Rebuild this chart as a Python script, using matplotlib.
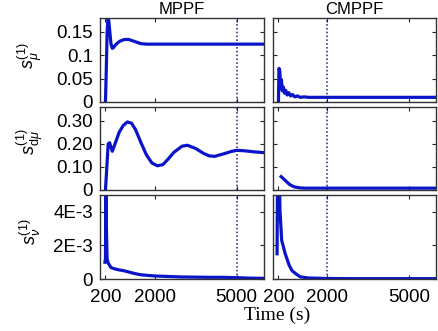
import matplotlib
matplotlib.use("Agg")
import matplotlib.pyplot as plt
from matplotlib.ticker import FixedLocator, FixedFormatter

# ---- data ----
col_titles = ["MPPF", "CMPPF"]
ylabels = [r"$s_{\mu}^{(1)}$", r"$s_{\mathrm{d}\mu}^{(1)}$", r"$s_{\nu}^{(1)}$"]
xticks = [200, 2000, 5000]
xticklabels = ["200", "2000", "5000"]
vlines = [5000, 2000]

yticks = [[0, 0.05, 0.1, 0.15], [0, 0.10, 0.20, 0.30], [0, 0.002, 0.004]]
yticklabels = [["0", "0.05", "0.1", "0.15"], ["0", "0.10", "0.20", "0.30"], ["0", "2E-3", "4E-3"]]
ylims = [(0, 0.18), (0, 0.36), (0, 0.005)]

# MPPF s_mu
t_mu_m = [200, 230, 260, 290, 320, 360, 400, 450, 500, 560, 650, 750, 900, 1050, 1200, 1350, 1500, 1700, 2000, 2500, 3000, 3500, 4000, 4500, 5000, 5500, 6000]
v_mu_m = [0.0, 0.07, 0.15, 0.178, 0.175, 0.15, 0.125, 0.115, 0.117, 0.122, 0.127, 0.131, 0.134, 0.134, 0.131, 0.128, 0.125, 0.124, 0.124, 0.124, 0.124, 0.124, 0.124, 0.124, 0.124, 0.124, 0.124]
# CMPPF s_mu
t_mu_c = [200, 220, 250, 280, 310, 340, 380, 420, 470, 520, 580, 650, 720, 800, 900, 1000, 1150, 1300, 1500, 2000, 3000, 4000, 5000, 6000]
v_mu_c = [0.0, 0.072, 0.066, 0.03, 0.048, 0.024, 0.032, 0.019, 0.025, 0.015, 0.02, 0.013, 0.016, 0.011, 0.013, 0.01, 0.011, 0.01, 0.01, 0.01, 0.01, 0.01, 0.01, 0.01]
# MPPF s_dmu
t_dmu_m = [200, 250, 300, 350, 450, 550, 700, 850, 1000, 1150, 1300, 1500, 1700, 1900, 2100, 2300, 2500, 2700, 3000, 3200, 3500, 3800, 4000, 4200, 4500, 4800, 5000, 5300, 5600, 6000]
v_dmu_m = [0.0, 0.1, 0.2, 0.205, 0.168, 0.2, 0.25, 0.28, 0.295, 0.29, 0.262, 0.205, 0.152, 0.117, 0.105, 0.11, 0.135, 0.163, 0.19, 0.194, 0.18, 0.158, 0.148, 0.146, 0.156, 0.167, 0.172, 0.17, 0.166, 0.162]
# CMPPF s_dmu
t_dmu_c = [300, 400, 500, 600, 700, 800, 900, 1000, 1200, 1500, 2000, 3000, 4000, 5000, 6000]
v_dmu_c = [0.058, 0.047, 0.036, 0.025, 0.018, 0.013, 0.011, 0.009, 0.008, 0.008, 0.008, 0.008, 0.008, 0.008, 0.008]
# MPPF s_nu
t_nu_m = [180, 200, 215, 235, 260, 300, 400, 550, 700, 850, 1000, 1250, 1500, 2000, 2500, 3000, 3500, 4000, 4500, 5000, 5500, 6000]
v_nu_m = [0.001, 0.0012, 0.0056, 0.003, 0.0012, 0.00095, 0.00068, 0.0006, 0.00054, 0.0005, 0.00044, 0.00033, 0.00025, 0.00018, 0.00015, 0.00012, 0.00011, 0.0001, 0.0001, 0.00008, 0.00005, 0.00004]
# CMPPF s_nu
t_nu_c = [150, 165, 240, 256, 320, 450, 600, 700, 850, 1000, 1300, 2000, 3000, 4000, 5000, 6000]
v_nu_c = [0.0015, 0.0058, 0.0058, 0.0041, 0.0023, 0.0015, 0.0008, 0.0005, 0.0003, 0.00013, 0.00006, 0.00003, 0.00002, 0.00002, 0.00002, 0.00002]

series = [[(t_mu_m, v_mu_m), (t_mu_c, v_mu_c)],
          [(t_dmu_m, v_dmu_m), (t_dmu_c, v_dmu_c)],
          [(t_nu_m, v_nu_m), (t_nu_c, v_nu_c)]]

# ---- layout ----
W, H = 438, 331
fig = plt.figure(figsize=(W / 100, H / 100), dpi=100)
sans = "Liberation Sans"
plt.rcParams["mathtext.fontset"] = "custom"
plt.rcParams["mathtext.rm"] = "Liberation Sans"
plt.rcParams["mathtext.it"] = "Liberation Sans:italic"

col_px = [(100, 264), (273, 436)]
row_px = [(18, 102), (107, 190), (195, 279)]
line_color = "#0a14c8"
vline_color = "#1a1a9a"

for r in range(3):
    for c in range(2):
        x0, x1 = col_px[c]
        y0, y1 = row_px[r]
        ax = fig.add_axes([x0 / W, (H - y1) / H, (x1 - x0) / W, (y1 - y0) / H])
        t, v = series[r][c]
        ax.plot(t, v, color=line_color, lw=2.3, solid_joinstyle="round")
        ax.axvline(vlines[c], color=vline_color, ls=(0, (1, 1.5)), lw=1.1)
        ax.set_xlim(0, 6000)
        ax.set_ylim(*ylims[r])
        ax.xaxis.set_major_locator(FixedLocator(xticks))
        ax.yaxis.set_major_locator(FixedLocator(yticks[r]))
        if r == 2:
            ax.xaxis.set_major_formatter(FixedFormatter(xticklabels))
        else:
            ax.set_xticklabels([])
        if c == 0:
            ax.yaxis.set_major_formatter(FixedFormatter(yticklabels[r]))
        else:
            ax.set_yticklabels([])
        ax.tick_params(direction="in", length=3, width=0.8, top=True, right=True,
                       labelsize=13.5, colors="#222222", labelcolor="black")
        ax.tick_params(axis="x", pad=7)
        ax.tick_params(axis="y", pad=5)
        for lab in ax.get_xticklabels() + ax.get_yticklabels():
            lab.set_fontfamily(sans)
        for s in ax.spines.values():
            s.set_color("#333333")
            s.set_linewidth(1.0)
        if r == 0:
            ax.set_title(col_titles[c], fontsize=12, fontfamily=sans, pad=3)

label_y = [56, 142, 232]
for r in range(3):
    fig.text(30 / W, (H - label_y[r]) / H, ylabels[r], rotation=90, fontsize=13,
             ha="center", va="center")

fig.text(277 / W, (H - 315) / H, "Time (s)", fontsize=14, fontfamily="Liberation Serif",
         ha="center", va="center")

fig.savefig("out.png", dpi=100)
